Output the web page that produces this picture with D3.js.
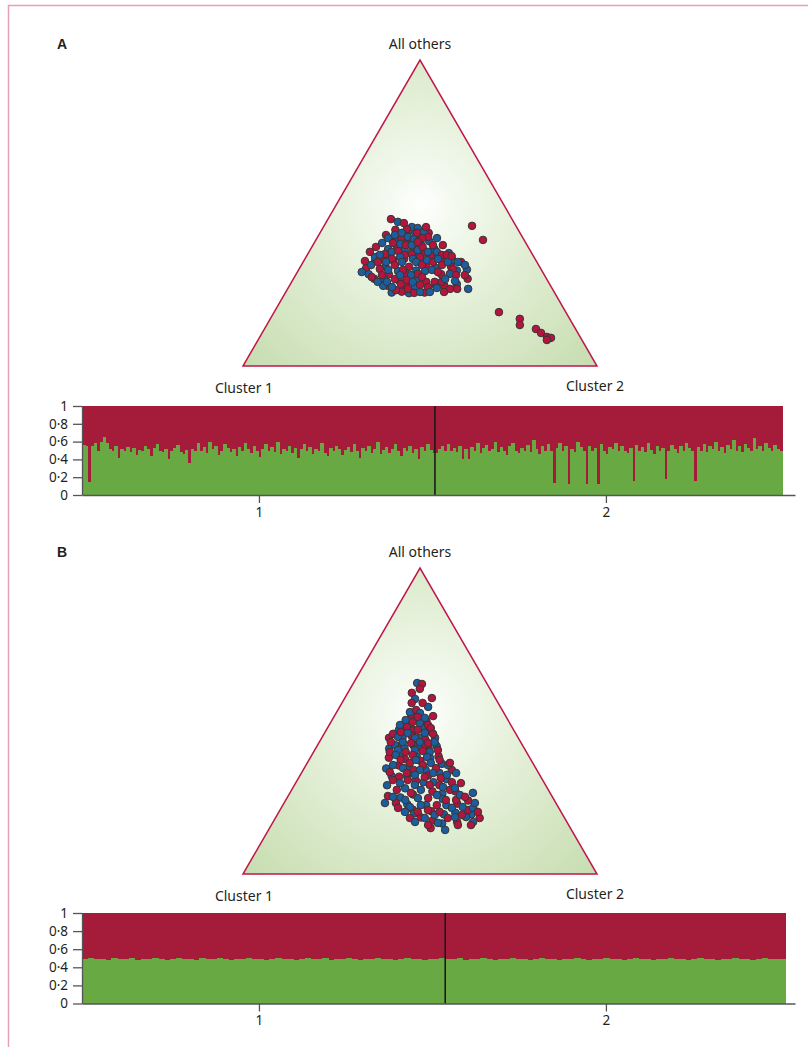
<!DOCTYPE html>
<html>
<head>
<meta charset="utf-8">
<script src="https://cdn.jsdelivr.net/npm/d3@7"></script>
<style>
  body { margin: 0; background: #fff; }
  svg text { font-family: "Noto Sans", "Open Sans", sans-serif; fill: #231f20; }
</style>
</head>
<body>
<svg id="chart" width="808" height="1047"></svg>
<script>
// corner names of the ternary plots
const cornerLabels = ['Cluster 1', 'Cluster 2', 'All others'];
const yTicks = [0, 0.2, 0.4, 0.6, 0.8, 1];
const xTicks = [1, 2];
const xAxisDomain = [0.49, 2.545];

// ternary points: [cluster 2 share, all others share, group] (cluster 1 = rest), group 0 = red, 1 = blue
const pointsA = [
  [.208,.445,0],[.226,.410,1],[.247,.432,0],[.263,.410,0],[.285,.428,1],[.302,.400,1],[.322,.408,1],[.243,.385,0],
  [.268,.378,1],[.287,.386,0],[.326,.372,0],[.350,.382,1],[.352,.358,0],[.372,.360,1],[.386,.350,0],[.420,.345,1],
  [.425,.325,0],[.448,.312,1],[.410,.300,0],[.385,.320,1],[.355,.325,0],[.333,.312,1],[.310,.300,0],[.283,.310,1],
  [.262,.300,0],[.240,.325,1],[.218,.350,0],[.202,.343,1],[.188,.320,0],[.205,.300,1],[.228,.285,0],[.256,.285,1],
  [.278,.262,0],[.300,.280,1],[.330,.262,0],[.350,.280,1],[.380,.275,0],[.412,.265,1],[.438,.262,0],[.470,.268,1],
  [.393,.240,0],[.350,.238,1],[.327,.243,0],[.300,.240,1],[.265,.262,1],[.492,.285,0],[.475,.315,1],[.252,.345,0],
  [.230,.362,1],[.280,.350,0],[.316,.362,1],[.340,.345,1],[.258,.400,1],[.238,.418,0],[.307,.435,0],[.265,.440,1],
  [.178,.480,0],[.202,.471,1],[.250,.454,1],[.268,.451,1],[.239,.448,0],[.292,.438,1],[.312,.422,0],[.297,.418,0],
  [.190,.428,0],[.201,.418,1],[.215,.428,1],[.231,.435,1],[.255,.422,1],[.275,.415,1],
  [.221,.467,0],[.290,.454,0],[.274,.435,0],[.339,.418,1],[.367,.395,0],
  [.181,.389,0],[.192,.402,1],[.219,.382,1],[.218,.366,0],[.234,.373,1],[.250,.376,0],[.276,.363,0],[.294,.366,0],
  [.304,.379,1],[.313,.389,0],[.339,.395,0],[.361,.373,1],[.380,.363,0],[.397,.369,1],[.394,.363,0],
  [.223,.402,0],[.245,.399,1],[.262,.395,0],[.279,.395,1],[.291,.405,0],[.336,.373,1],[.322,.356,0],[.305,.350,1],
  [.266,.356,1],[.246,.350,0],[.234,.340,1],[.195,.356,1],[.172,.373,0],[.205,.363,1],
  [.173,.343,0],[.182,.307,1],[.197,.330,1],[.211,.340,0],[.228,.317,0],[.253,.314,1],[.264,.330,0],[.279,.340,1],
  [.307,.324,0],[.319,.340,1],[.341,.330,0],[.347,.346,1],[.367,.340,0],[.376,.350,1],[.397,.330,0],[.409,.340,1],
  [.434,.317,0],[.434,.301,1],[.446,.340,0],[.462,.330,1],[.478,.297,0],[.510,.252,1],
  [.410,.359,0],[.437,.340,1],
  [.377,.314,1],[.397,.307,0],[.359,.310,1],[.343,.301,0],[.326,.297,1],[.295,.314,0],
  [.244,.297,0],[.269,.275,1],[.287,.284,0],[.308,.248,0],[.295,.297,1],[.322,.281,0],[.357,.258,1],[.340,.252,0],
  [.360,.291,0],[.394,.258,0],[.407,.242,1],[.404,.275,0],[.424,.275,0],[.429,.284,1],[.459,.252,0],[.479,.252,0],
  [.292,.258,1],[.312,.268,0],[.342,.275,1],[.368,.265,0],[.420,.255,1],[.447,.242,0],[.364,.239,0],[.379,.242,1],
  [.453,.297,0],[.460,.278,1],[.218,.291,0],[.243,.275,1],
  [.418,.458,0],[.472,.412,0],[.635,.176,0],[.705,.154,0],[.715,.134,0],[.767,.121,0],[.788,.108,0],[.811,.095,0],
  [.824,.092,0],[.816,.085,0]
];

const pointsB = [
  [.215,.520,0],[.245,.505,1],[.268,.500,0],[.226,.490,1],[.248,.470,0],[.270,.478,1],[.296,.465,0],[.205,.470,1],
  [.190,.445,0],[.228,.445,1],[.250,.452,0],[.276,.445,1],[.295,.440,0],[.320,.445,1],[.208,.410,1],[.230,.418,0],
  [.250,.412,1],[.272,.420,0],[.296,.415,1],[.318,.412,0],[.338,.418,1],[.222,.380,0],[.250,.385,1],[.270,.375,0],
  [.298,.385,1],[.316,.370,0],[.340,.378,1],[.360,.385,0],[.382,.360,1],[.232,.345,1],[.262,.355,0],[.288,.345,1],
  [.312,.340,0],[.346,.340,1],[.362,.322,0],[.390,.330,1],[.420,.340,0],[.420,.310,1],[.440,.300,0],[.260,.320,1],
  [.282,.318,0],[.305,.318,1],[.336,.305,0],[.388,.300,1],[.410,.290,0],[.262,.290,1],[.282,.255,0],[.318,.280,1],
  [.360,.300,1],[.400,.270,0],[.432,.262,1],[.465,.270,0],[.320,.250,1],[.350,.260,0],[.316,.232,0],[.350,.228,1],
  [.375,.210,0],[.405,.225,1],[.430,.205,0],[.462,.225,1],[.490,.230,0],[.470,.195,1],[.410,.185,0],[.385,.198,1],
  [.448,.175,0],[.500,.200,1],[.520,.170,0],[.548,.195,1],[.480,.165,1],[.455,.150,0],[.516,.240,0],[.442,.245,1],
  [.180,.624,1],[.195,.621,0],[.197,.605,0],[.181,.592,0],[.246,.575,0],[.200,.572,1],[.197,.559,0],[.250,.546,1],[.228,.559,0],
  [.207,.529,1],[.221,.536,0],[.237,.526,1],[.279,.516,0],[.259,.510,1],[.208,.503,1],[.231,.497,0],[.253,.493,1],[.279,.487,0],
  [.219,.477,1],[.292,.477,0],[.237,.513,0],[.200,.487,1],[.223,.480,0],
  [.195,.458,0],[.214,.448,1],[.214,.464,0],[.235,.461,1],[.258,.471,0],[.283,.461,1],[.308,.458,0],[.264,.444,1],[.303,.422,0],
  [.218,.422,1],[.202,.431,0],[.236,.431,1],[.261,.428,0],[.284,.431,1],[.309,.428,0],[.326,.431,1],[.348,.405,0],
  [.215,.399,0],[.235,.405,1],[.260,.399,0],[.283,.405,1],[.307,.402,0],[.328,.399,1],[.237,.389,1],[.285,.389,0],[.329,.382,1],
  [.259,.373,0],[.246,.356,1],[.248,.333,0],[.279,.346,1],[.290,.363,0],[.302,.373,1],[.330,.356,0],[.349,.363,1],[.369,.373,0],
  [.401,.356,1],[.403,.363,0],[.372,.346,0],[.330,.340,1],[.298,.330,0],
  [.437,.330,1],[.467,.297,0],[.517,.265,1],
  [.270,.307,0],[.295,.297,1],[.312,.307,0],[.324,.324,1],[.355,.317,0],[.372,.330,1],[.402,.314,0],[.423,.284,1],[.447,.275,0],
  [.414,.324,1],[.458,.281,1],
  [.481,.242,0],[.484,.258,1],[.501,.252,0],
  [.285,.232,1],[.298,.252,1],[.330,.216,0],[.337,.242,1],[.342,.265,0],[.365,.275,1],[.399,.248,0],[.390,.225,1],[.297,.275,0],
  [.340,.291,1],[.382,.291,0],[.419,.258,1],[.452,.242,0],[.370,.248,1],
  [.380,.183,0],[.401,.170,1],[.418,.209,0],[.445,.193,1],[.454,.203,0],[.499,.144,1],[.487,.183,0],[.506,.186,1],[.527,.160,0],
  [.537,.186,1],[.531,.209,0],[.542,.216,1],[.577,.183,0],[.565,.170,1],[.564,.160,0],[.511,.219,1],[.443,.160,0],[.467,.167,1],
  [.392,.203,0],[.362,.219,1],[.539,.232,1],[.562,.203,0],
  [.482,.216,1],[.356,.203,1],[.435,.225,0],[.422,.183,1],[.522,.193,0]
];

// structure bars: share of the green component for each individual, by group
const barsA1 = [
  .56,.55,.15,.55,.58,.5,.6,.65,.58,.52,
  .5,.55,.42,.52,.5,.54,.48,.53,.45,.51,
  .5,.55,.52,.44,.53,.57,.5,.48,.52,.4,
  .49,.53,.56,.48,.46,.51,.36,.52,.5,.58,
  .49,.54,.47,.6,.52,.55,.45,.5,.57,.53,
  .48,.52,.44,.54,.5,.58,.52,.47,.55,.5,
  .43,.52,.57,.49,.54,.48,.6,.46,.52,.5,
  .55,.47,.53,.42,.52,.57,.49,.54,.46,.52,
  .5,.58,.47,.44,.53,.49,.55,.52,.45,.51,
  .54,.48,.57,.5,.42,.53,.49,.55,.47,.52,
  .59,.46,.51,.54,.47,.52,.57,.49,.44,.53,
  .5,.55,.47,.52,.4,.54,.49,.57,.51,.47
];
const barsA2 = [
  .47,.52,.55,.5,.57,.49,.53,.48,.55,.4,
  .52,.41,.54,.5,.58,.47,.53,.56,.49,.52,
  .6,.48,.54,.5,.45,.55,.58,.5,.47,.53,
  .5,.56,.48,.62,.52,.46,.55,.5,.57,.49,
  .13,.53,.58,.5,.55,.12,.52,.48,.6,.54,
  .5,.12,.55,.49,.53,.12,.57,.5,.46,.54,
  .52,.58,.49,.55,.5,.47,.53,.16,.56,.5,
  .54,.48,.58,.51,.46,.55,.5,.53,.18,.49,
  .56,.52,.47,.55,.5,.58,.53,.49,.16,.54,
  .5,.57,.48,.55,.52,.6,.49,.54,.47,.56,
  .52,.62,.5,.55,.48,.57,.53,.5,.64,.52,
  .55,.49,.58,.53,.5,.56,.52,.5
];
const barsB1 = [
  .49,.5,.49,.49,.48,.5,.49,.49,.5,.48,
  .49,.49,.5,.49,.48,.49,.5,.49,.49,.48,
  .5,.49,.49,.5,.49,.48,.49,.49,.5,.49,
  .49,.48,.49,.5,.49,.49,.48,.49,.5,.49,
  .49,.5,.48,.49,.49,.5,.49,.48,.49,.49,
  .5,.49,.49,.48,.49,.5,.49,.49,.48,.49,
  .49,.5
];
const barsB2 = [
  .49,.49,.5,.48,.49,.49,.5,.49,.48,.49,
  .49,.5,.49,.49,.48,.49,.5,.49,.49,.48,
  .49,.49,.5,.49,.48,.49,.49,.5,.49,.49,
  .48,.49,.5,.49,.49,.48,.49,.49,.5,.49,
  .49,.48,.49,.5,.49,.49,.48,.49,.49,.5,
  .49,.49,.48,.49,.5,.49,.49,.49
];

const RED = '#a51c3b', GREEN = '#69a944';
const PT_RED = '#b3153f', PT_BLUE = '#1a5e9f';

const svg = d3.select('#chart');

// page frame
svg.append('path')
  .attr('d', 'M8.5,1047V5.5H808')
  .attr('fill', 'none')
  .attr('stroke', '#e7a1b7')
  .attr('stroke-width', 1.5);

function drawPanel(p) {
  const g = svg.append('g');

  g.append('text')
    .attr('x', 62).attr('y', p.top - 11)
    .attr('text-anchor', 'middle')
    .attr('font-size', 14).attr('font-weight', 'bold')
    .style('font-family', '"Liberation Sans", Arial, sans-serif')
    .text(p.letter);

  // ternary plot (p.top = apex)
  const baseY = p.top + 306;
  const tx = d3.scaleLinear().domain([0, 1]).range([243, 597]);
  const ty = d3.scaleLinear().domain([0, 1]).range([baseY, baseY - 306]);
  const proj = d => [tx(d[0] + d[1] / 2), ty(d[1])];

  const grad = svg.append('defs').append('radialGradient')
    .attr('id', 'glow' + p.letter)
    .attr('gradientUnits', 'userSpaceOnUse')
    .attr('cx', 420).attr('cy', ty(1) + 145).attr('r', 250);
  [[0, '#ffffff'], [0.12, '#f5faf1'], [0.55, '#dcebcd'], [1, '#c4dbad']].forEach(s =>
    grad.append('stop').attr('offset', s[0]).attr('stop-color', s[1]));

  const corners = [[0, 0], [1, 0], [0, 1]].map(proj);
  g.append('path')
    .attr('d', d3.line()(corners) + 'Z')
    .attr('fill', `url(#glow${p.letter})`)
    .attr('stroke', '#c0174a')
    .attr('stroke-width', 1.5)
    .attr('stroke-linejoin', 'miter');

  g.append('text').attr('x', 420).attr('y', ty(1) - 11)
    .attr('text-anchor', 'middle').attr('font-size', 14).text(cornerLabels[2]);
  g.append('text').attr('x', 244).attr('y', baseY + 27)
    .attr('text-anchor', 'middle').attr('font-size', 14).text(cornerLabels[0]);
  g.append('text').attr('x', 595).attr('y', baseY + 25)
    .attr('text-anchor', 'middle').attr('font-size', 14).text(cornerLabels[1]);

  g.append('g').selectAll('circle')
    .data(p.points)
    .enter()
    .append('circle')
    .attr('cx', d => proj(d)[0])
    .attr('cy', d => proj(d)[1])
    .attr('r', 3.8)
    .attr('fill', d => d[2] ? PT_BLUE : PT_RED)
    .attr('stroke', '#3a3434')
    .attr('stroke-width', 1);

  // structure bar plot
  const vals = p.bars1.concat(p.bars2);
  const x = d3.scaleBand()
    .domain(d3.range(vals.length))
    .range([82, p.barRight])
    .padding(0);
  const y = d3.scaleLinear().domain([0, 1]).range([p.barBottom, p.barTop]);

  const bars = g.append('g').attr('shape-rendering', 'crispEdges');
  bars.selectAll('rect.red')
    .data(vals)
    .enter()
    .append('rect')
    .attr('class', 'red')
    .attr('x', (d, i) => x(i))
    .attr('y', y(1))
    .attr('width', x.bandwidth() + 0.6)
    .attr('height', d => y(d) - y(1))
    .attr('fill', RED);
  bars.selectAll('rect.green')
    .data(vals)
    .enter()
    .append('rect')
    .attr('class', 'green')
    .attr('x', (d, i) => x(i))
    .attr('y', d => y(d))
    .attr('width', x.bandwidth() + 0.6)
    .attr('height', d => y(0) - y(d))
    .attr('fill', GREEN);

  // group divider
  g.append('line')
    .attr('x1', x(p.bars1.length)).attr('x2', x(p.bars1.length))
    .attr('y1', y(1)).attr('y2', y(0))
    .attr('stroke', '#1a1a1a').attr('stroke-width', 1.6);

  const xa = d3.scaleLinear().domain(xAxisDomain).range([82, 795]);

  const yAxis = g.append('g')
    .attr('transform', 'translate(82,0)')
    .call(d3.axisLeft(y).tickValues(yTicks).tickSize(9).tickSizeOuter(0).tickPadding(5)
      .tickFormat(d => String(d).replace('.', '·')));
  const xAxis = g.append('g')
    .attr('transform', `translate(0,${p.barBottom})`)
    .call(d3.axisBottom(xa).tickValues(xTicks).tickSize(8).tickSizeOuter(0).tickPadding(4)
      .tickFormat(d3.format('d')));

  [yAxis, xAxis].forEach(a => {
    a.selectAll('path, line').attr('stroke', '#555').attr('stroke-width', 1.3);
    a.selectAll('text').attr('font-size', 13.5).attr('fill', '#231f20')
      .style('font-family', '"Noto Sans", "Open Sans", sans-serif');
  });
}

drawPanel({ letter: 'A', top: 60, points: pointsA, bars1: barsA1, bars2: barsA2,
  barTop: 406, barBottom: 495, barRight: 782 });
drawPanel({ letter: 'B', top: 568, points: pointsB, bars1: barsB1, bars2: barsB2,
  barTop: 913, barBottom: 1003.5, barRight: 785 });
</script>
</body>
</html>
